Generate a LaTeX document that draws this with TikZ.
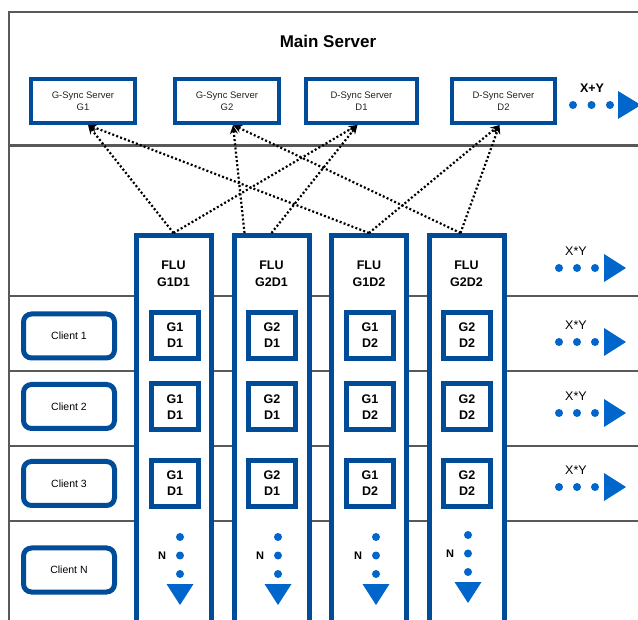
\documentclass[tikz,border=0pt]{standalone}
\usepackage{fontspec}
\setmainfont{Liberation Sans}
\usepackage{tikz}
\usetikzlibrary{arrows.meta}
\definecolor{frame}{RGB}{89,89,89}
\definecolor{boxblue}{RGB}{0,76,153}
\definecolor{dotblue}{RGB}{0,102,204}
\definecolor{srvtext}{RGB}{34,34,34}

\begin{document}
\begin{tikzpicture}[x=1pt,y=-1pt,
  wall/.style={draw=frame,line width=2.8pt},
  server/.style={rectangle,draw=boxblue,line width=4pt,fill=white,
                 minimum height=44pt,align=center,
                 font=\fontsize{9.5}{11.5}\selectfont\color{srvtext}},
  flu/.style={rectangle,draw=boxblue,line width=5pt,fill=white,
              minimum width=75pt,minimum height=420pt,anchor=north},
  flulbl/.style={align=center,font=\fontsize{12.5}{17}\selectfont\bfseries},
  cell/.style={rectangle,draw=boxblue,line width=5pt,fill=white,
               minimum width=47pt,minimum height=46pt,align=center,
               font=\fontsize{12.5}{16}\selectfont\bfseries},
  client/.style={rectangle,rounded corners=8pt,draw=boxblue,line width=5pt,
                 fill=white,minimum width=91pt,minimum height=44pt,
                 font=\fontsize{10.5}{12}\selectfont},
  sync/.style={-{Stealth[length=9pt,width=8pt]},line width=2.2pt,
               dash pattern=on 2pt off 2.2pt},
  mult/.style={font=\fontsize{12.5}{15}\selectfont},
  blob/.style={fill=dotblue}
]
  \useasboundingbox (0,0) rectangle (638,620);
  \clip (0,0) rectangle (638,620);

  % frame of main server and client rows
  \draw[wall] (9,660) -- (9,12) -- (660,12);
  \draw[wall] (9,145.5) -- (660,145.5);
  \foreach \y in {296,371,446,521} \draw[wall] (9,\y) -- (660,\y);

  \node[font=\fontsize{17}{20}\selectfont\bfseries] (main) at (328,41) {Main Server};

  \node[server,minimum width=104pt] (g1) at (83,101) {G-Sync Server\\G1};
  \node[server,minimum width=104pt] (g2) at (227,101) {G-Sync Server\\G2};
  \node[server,minimum width=111pt] (d1) at (361.5,101) {D-Sync Server\\D1};
  \node[server,minimum width=103pt] (d2) at (503.5,101) {D-Sync Server\\D2};

  % FLU columns
  \node[flu] (c1) at (173.5,233) {};
  \node[flu] (c2) at (271.5,233) {};
  \node[flu] (c3) at (369,233) {};
  \node[flu] (c4) at (466.5,233) {};
  \node[flulbl] (l1) at (173.5,273.5) {FLU\\G1D1};
  \node[flulbl] (l2) at (271.5,273.5) {FLU\\G2D1};
  \node[flulbl] (l3) at (369,273.5) {FLU\\G1D2};
  \node[flulbl] (l4) at (466.5,273.5) {FLU\\G2D2};

  \node[cell] (c1a) at (175,335.5) {G1\\D1};
  \node[cell] (c1b) at (175,407) {G1\\D1};
  \node[cell] (c1c) at (175,483.5) {G1\\D1};
  \node[cell] (c2a) at (272,335.5) {G2\\D1};
  \node[cell] (c2b) at (272,407) {G2\\D1};
  \node[cell] (c2c) at (272,483.5) {G2\\D1};
  \node[cell] (c3a) at (370,335.5) {G1\\D2};
  \node[cell] (c3b) at (370,407) {G1\\D2};
  \node[cell] (c3c) at (370,483.5) {G1\\D2};
  \node[cell] (c4a) at (467,335.5) {G2\\D2};
  \node[cell] (c4b) at (467,407) {G2\\D2};
  \node[cell] (c4c) at (467,483.5) {G2\\D2};

  \node[client] (cl1) at (69,336) {Client 1};
  \node[client] (cl2) at (69,406.5) {Client 2};
  \node[client] (cl3) at (69,483.5) {Client 3};
  \node[client] (clN) at (69,570) {Client N};

  % sync links up to the servers
  \draw[sync] (c1.north) -- ([xshift=5pt]g1.south);
  \draw[sync] (c3.north) -- ([xshift=5pt]g1.south);
  \draw[sync] ([xshift=-27pt]c2.north) -- ([xshift=6pt]g2.south);
  \draw[sync] ([xshift=-6pt]c4.north) -- ([xshift=6pt]g2.south);
  \draw[sync] (c1.north) -- ([xshift=-4pt]d1.south);
  \draw[sync] (c2.north) -- ([xshift=-4pt]d1.south);
  \draw[sync] (c3.north) -- ([xshift=-4pt]d2.south);
  \draw[sync] ([xshift=-6pt]c4.north) -- ([xshift=-4pt]d2.south);

  % N more clients down each column
  \foreach \x/\t in {180/537,278/537,376/537,468/535} {
    \foreach \k in {0,1,2} \fill[blob] (\x,\t+18.5*\k) circle (4pt);
    \fill[blob] (\x-13.5,\t+47) -- (\x+13.5,\t+47) -- (\x,\t+68) -- cycle;
    \node[font=\fontsize{11}{13}\selectfont\bfseries] (n\x) at (\x-18,\t+18.5) {N};
  }

  % growth to the right
  \node[mult,font=\fontsize{12.5}{15}\selectfont\bfseries] (xpy) at (592,88) {X+Y};
  \foreach \k in {0,1,2} \fill[blob] (573+18.5*\k,105) circle (4pt);
  \fill[blob] (618,91) -- (641,105) -- (618,119) -- cycle;
  \foreach \y/\n in {268/1,342/2,413/3,487/4} {
    \node[mult] (xy\n) at (576,\y-17) {X*Y};
    \foreach \k in {0,1,2} \fill[blob] (559+18*\k,\y) circle (4pt);
    \fill[blob] (604,\y-14) -- (626,\y) -- (604,\y+14) -- cycle;
  }
\end{tikzpicture}
\end{document}
